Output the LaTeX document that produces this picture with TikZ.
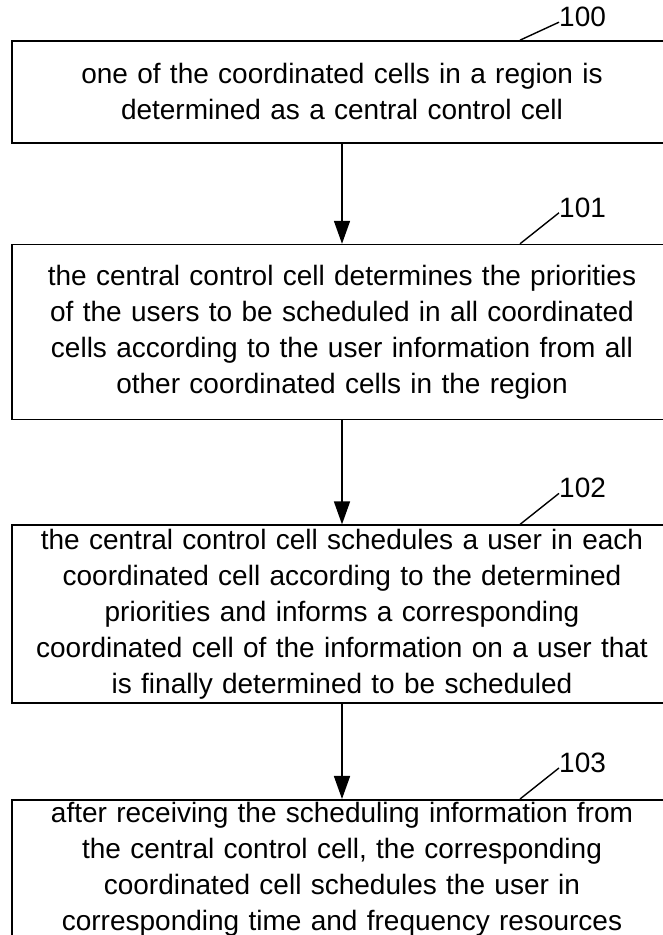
\documentclass[tikz,border=0pt]{standalone}
\usepackage{fontspec}
\setmainfont{Liberation Sans}
\usetikzlibrary{positioning,arrows.meta}

\newcommand*{\boxw}{660pt}
\newcommand*{\leadx}{178pt}
\newcommand*{\labx}{217pt}

\begin{document}
\begin{tikzpicture}
[
	x=1pt,y=1pt,
	stepbox/.style={draw,line width=1.6pt,rectangle,minimum width=\boxw,text width=650pt,align=center,inner xsep=0pt,inner ysep=2pt,font=\fontsize{28}{36}\selectfont},
	reflabel/.style={anchor=south west,inner sep=0pt,font=\fontsize{28}{30}\selectfont},
	leader/.style={line width=1.4pt},
	flow/.style={line width=1.6pt,-{Triangle[width=16pt,length=23pt]}}
]
	\useasboundingbox (0,0) rectangle (662,935);

	% process steps
	\node[stepbox,minimum height=102pt] (s100) at (342,843)
		{one of the coordinated cells in a region is\\determined as a central control cell};
	\node[stepbox,minimum height=175pt,below=100pt of s100] (s101)
		{the central control cell determines the priorities\\of the users to be scheduled in all coordinated\\cells according to the user information from all\\other coordinated cells in the region};
	\node[stepbox,minimum height=178pt,below=104pt of s101] (s102)
		{the central control cell schedules a user in each\\coordinated cell according to the determined\\priorities and informs a corresponding\\coordinated cell of the information on a user that\\is finally determined to be scheduled};
	\node[stepbox,minimum height=138pt,below=95pt of s102] (s103)
		{after receiving the scheduling information from\\the central control cell, the corresponding\\coordinated cell schedules the user in\\corresponding time and frequency resources};

	% flow arrows
	\draw[flow] (s100) -- (s101);
	\draw[flow] (s101) -- (s102);
	\draw[flow] (s102) -- (s103);

	% reference numerals
	\node[reflabel] (l100) at ([xshift=\labx,yshift=13pt]s100.north) {100};
	\node[reflabel] (l101) at ([xshift=\labx,yshift=26pt]s101.north) {101};
	\node[reflabel] (l102) at ([xshift=\labx,yshift=26pt]s102.north) {102};
	\node[reflabel] (l103) at ([xshift=\labx,yshift=26pt]s103.north) {103};

	\draw[leader] ([xshift=\leadx]s100.north) -- ([yshift=5pt]l100.south west);
	\draw[leader] ([xshift=\leadx]s101.north) -- ([yshift=5pt]l101.south west);
	\draw[leader] ([xshift=\leadx]s102.north) -- ([yshift=5pt]l102.south west);
	\draw[leader] ([xshift=\leadx]s103.north) -- ([yshift=5pt]l103.south west);

\end{tikzpicture}
\end{document}
